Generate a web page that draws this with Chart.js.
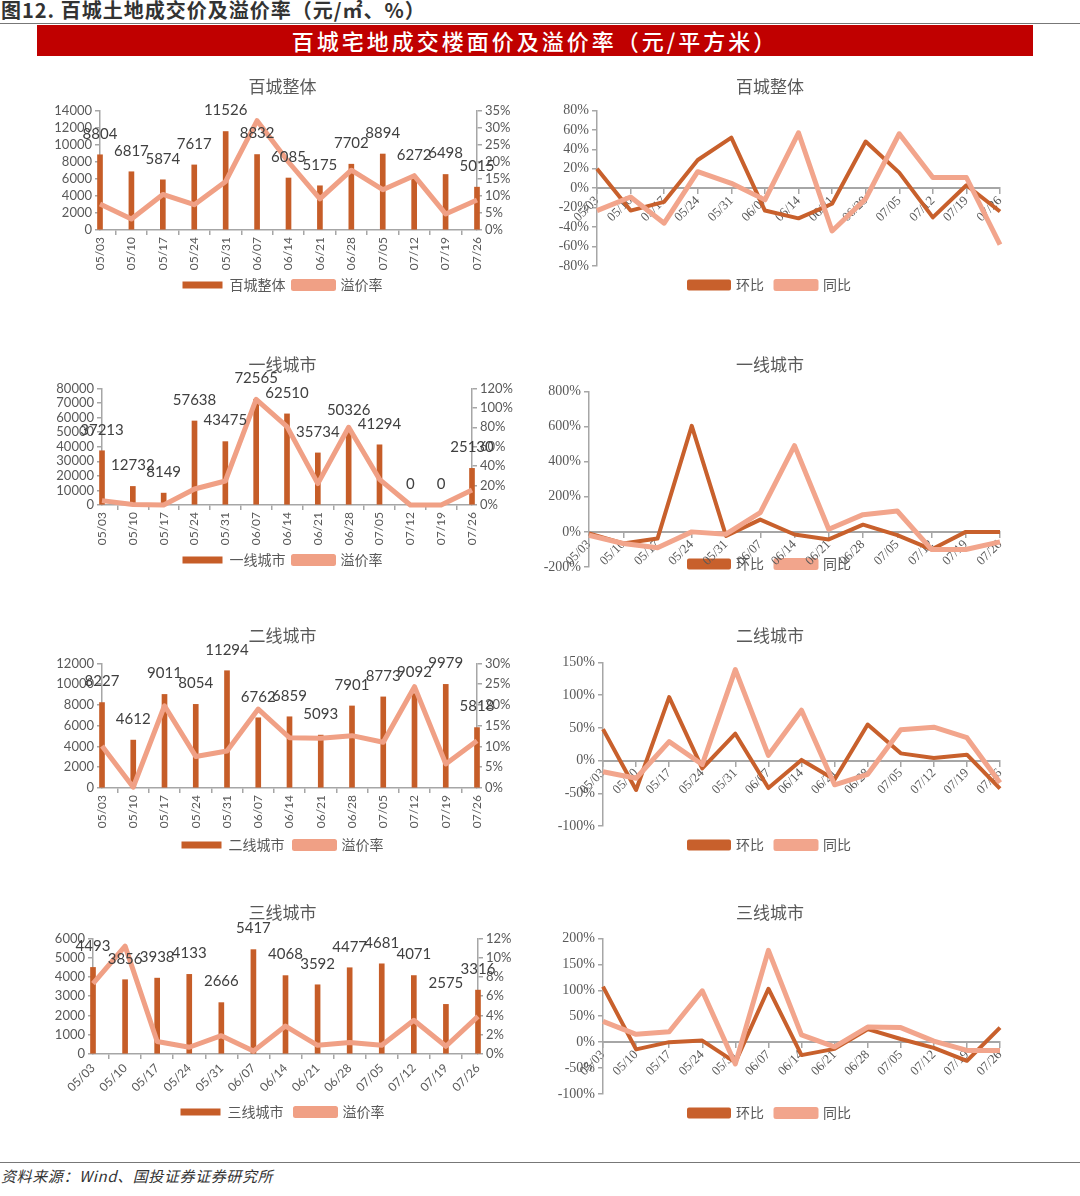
<!DOCTYPE html>
<html>
<head>
<meta charset="utf-8">
<script src="https://cdn.jsdelivr.net/npm/chart.js@4.4.1/dist/chart.umd.min.js"></script>
<style>
body { margin: 0; width: 1080px; height: 1196px; background: #fff; position: relative; overflow: hidden; font-family: 'Noto Sans CJK SC', sans-serif; }
#fig { position: absolute; left: 1px; top: -1px; font-size: 20px; font-weight: bold; color: #333; line-height: 22px; letter-spacing: 1px; }
#topline { position: absolute; left: 0; top: 23px; width: 1080px; height: 1px; background: #777; }
#banner { position: absolute; left: 37px; top: 25px; width: 996px; height: 31px; background: #C00000; color: #fff; text-align: center; font-size: 22px; line-height: 31px; font-weight: 500; letter-spacing: 3px; }
canvas { position: absolute; }
#botline { position: absolute; left: 0; top: 1162px; width: 1080px; height: 1px; background: #777; }
#source { position: absolute; left: 1px; top: 1165px; font-size: 15px; font-style: italic; color: #333; letter-spacing: 0.6px; }
</style>
</head>
<body>
<div id="fig">图12. 百城土地成交价及溢价率（元/㎡、%）</div>
<div id="topline"></div>
<div id="banner">百城宅地成交楼面价及溢价率（元/平方米）</div>

<canvas id="c1" width="485" height="229" style="left:40px;top:73px"></canvas>
<canvas id="c2" width="480" height="229" style="left:540px;top:73px"></canvas>
<canvas id="c3" width="485" height="226" style="left:40px;top:351px"></canvas>
<canvas id="c4" width="480" height="252" style="left:540px;top:351px"></canvas>
<canvas id="c5" width="485" height="240" style="left:40px;top:622px"></canvas>
<canvas id="c6" width="480" height="240" style="left:540px;top:622px"></canvas>
<canvas id="c7" width="485" height="230" style="left:40px;top:899px"></canvas>
<canvas id="c8" width="480" height="231" style="left:540px;top:899px"></canvas>

<div id="botline"></div>
<div id="source">资料来源：Wind、国投证券证券研究所</div>

<script>
const dates = ['05/03', '05/10', '05/17', '05/24', '05/31', '06/07', '06/14', '06/21', '06/28', '07/05', '07/12', '07/19', '07/26'];

// 百城整体
const allPrice = [8804, 6817, 5874, 7617, 11526, 8832, 6085, 5175, 7702, 8894, 6272, 6498, 5015];
const allPremium = [7.6, 3.2, 10.4, 7.4, 14.2, 32, 19.9, 9.1, 17.5, 11.8, 15.9, 4.7, 8.8];
const allHuanbi = [20, -23, -14, 29, 52, -23, -31, -16, 48, 16, -30, 3, -24];
const allTongbi = [-23, -9, -36, 17, 5, -12, 57, -44, -11, 56, 11, 11, -58];

// 一线城市
const tier1Price = [37213, 12732, 8149, 57638, 43475, 72565, 62510, 35734, 50326, 41294, 0, 0, 25130];
const tier1Premium = [4.5, 0.5, 0, 16.5, 24.7, 108.7, 80.6, 22, 80, 26.4, 0, 0, 15.4];
const tier1Huanbi = [-9, -66, -38, 604, -23, 70, -15, -43, 41, -18, -100, 0, 0];
const tier1Tongbi = [-19, -66, -90, 0, -13, 110, 491, 15, 98, 119, -100, -100, -57];

// 二线城市
const tier2Price = [8227, 4612, 9011, 8054, 11294, 6762, 6859, 5093, 7901, 8773, 9092, 9979, 5818];
const tier2Premium = [10.1, 0.2, 19.8, 7.6, 8.9, 19, 12.1, 12, 12.6, 11, 24.4, 5.8, 11.4];
const tier2Huanbi = [48, -45, 97, -12, 41, -42, 1, -29, 55, 11, 4, 9, -43];
const tier2Tongbi = [-17, -27, 29, -6, 139, 8, 77, -37, -21, 47, 51, 35, -34];

// 三线城市
const tier3Price = [4493, 3856, 3938, 4133, 2666, 5417, 4068, 3592, 4477, 4681, 4071, 2575, 3316];
const tier3Premium = [7.3, 11.2, 1.3, 0.7, 1.9, 0.3, 2.9, 0.9, 1.2, 0.9, 3.5, 0.8, 3.9];
const tier3Huanbi = [107, -14, 0, 3, -39, 103, -25, -13, 25, 6, -11, -36, 28];
const tier3Tongbi = [40, 15, 20, 99, -42, 177, 14, -9, 29, 28, 2, -16, -16];

const barColor = '#C65D28';
const premiumColor = '#F0A085';
const hbColor = '#C8602C';
const tbColor = '#F2A58C';
const axisColor = '#A6A6A6';
const tickColor = '#595959';
const sans = 'Lato, "Noto Sans CJK SC", sans-serif';
const serif = '"Liberation Serif", "Noto Sans CJK SC", serif';

// numbers above the bars
const barLabels = {
    id: 'barLabels',
    afterDatasetsDraw(chart) {
        const meta = chart.getDatasetMeta(0);
        const values = chart.data.datasets[0].data;
        const ctx = chart.ctx;
        ctx.save();
        ctx.font = '15px ' + sans;
        ctx.fillStyle = '#404040';
        ctx.textAlign = 'center';
        ctx.textBaseline = 'middle';
        meta.data.forEach((bar, i) => {
            ctx.fillText(values[i], bar.x, bar.y - 21);
        });
        ctx.restore();
    }
};

// lets a legend sit over the bottom of the plot, like the 一线城市 panel
const legendShift = {
    id: 'legendShift',
    afterLayout(chart, args, opts) {
        if (!opts.dy) return;
        chart.legend.top += opts.dy;
        chart.legend.bottom += opts.dy;
    }
};

const titleOpts = (text, padBottom) => ({
    display: true,
    text: text,
    color: tickColor,
    font: { size: 17, family: sans, weight: 'normal' },
    padding: { top: 4, bottom: padBottom }
});

const legendOpts = (pad) => ({
    position: 'bottom',
    labels: {
        boxWidth: 40,
        boxHeight: 7,
        color: tickColor,
        font: { size: 14, family: sans },
        padding: pad,
        sort: (a, b) => a.datasetIndex - b.datasetIndex
    }
});

const axisGrid = { drawOnChartArea: false, color: axisColor, tickLength: 5, lineWidth: 1.5 };
const axisBorder = { color: axisColor, width: 1.5 };

function comboChart(id, c) {
    new Chart(document.getElementById(id), {
        type: 'bar',
        data: {
            labels: dates,
            datasets: [
                { type: 'bar', label: c.name, data: c.prices, backgroundColor: barColor, barThickness: 5, yAxisID: 'y', order: 1, clip: false },
                { type: 'line', label: '溢价率', data: c.premiums, borderColor: premiumColor, backgroundColor: premiumColor,
                  borderWidth: 5, pointRadius: 0, borderJoinStyle: 'round', yAxisID: 'y1', order: 0, clip: false }
            ]
        },
        options: {
            responsive: false,
            animation: false,
            plugins: { title: titleOpts(c.name, c.titlePad), legend: legendOpts(c.legendPad), tooltip: { enabled: false } },
            scales: {
                x: {
                    offset: false,
                    grid: axisGrid,
                    border: axisBorder,
                    ticks: { autoSkip: false, minRotation: c.rot, maxRotation: c.rot, color: tickColor, font: { size: 12, family: sans }, padding: 2 },
                    afterFit: (s) => { s.height = c.xH; }
                },
                y: {
                    min: 0, max: c.yMax,
                    grid: axisGrid,
                    border: axisBorder,
                    ticks: { autoSkip: false, stepSize: c.yStep, color: tickColor, font: { size: 13, family: sans }, padding: 3, callback: (v) => String(v) },
                    afterFit: (s) => { s.width = c.leftW; }
                },
                y1: {
                    position: 'right',
                    min: 0, max: c.rMax,
                    grid: axisGrid,
                    border: axisBorder,
                    ticks: { autoSkip: false, stepSize: c.rStep, color: tickColor, font: { size: 13, family: sans }, padding: 3, callback: (v) => v + '%' },
                    afterFit: (s) => { s.width = c.rightW; }
                }
            }
        },
        plugins: [barLabels]
    });
}

function ratioChart(id, c) {
    new Chart(document.getElementById(id), {
        type: 'line',
        data: {
            labels: dates,
            datasets: [
                { label: '环比', data: c.huanbi, borderColor: hbColor, backgroundColor: hbColor, borderWidth: 4,
                  pointRadius: 0, borderJoinStyle: 'round', order: 1, clip: false },
                { label: '同比', data: c.tongbi, borderColor: tbColor, backgroundColor: tbColor, borderWidth: 5,
                  pointRadius: 0, borderJoinStyle: 'round', order: 0, clip: false }
            ]
        },
        options: {
            responsive: false,
            animation: false,
            layout: { padding: { right: 20 } },
            plugins: {
                title: titleOpts(c.title, c.titlePad),
                legend: legendOpts(12),
                legendShift: { dy: c.legendDy || 0 },
                tooltip: { enabled: false }
            },
            scales: {
                x: {
                    position: { y: 0 },
                    offset: false,
                    grid: axisGrid,
                    border: { color: axisColor, width: 2 },
                    ticks: { autoSkip: false, minRotation: 45, maxRotation: 45, color: tickColor, font: { size: 13, family: serif }, padding: 0 }
                },
                y: {
                    min: c.yMin, max: c.yMax,
                    grid: axisGrid,
                    border: axisBorder,
                    ticks: { autoSkip: false, stepSize: c.yStep, color: tickColor, font: { size: 14, family: serif }, padding: 3, callback: (v) => v + '%' },
                    afterFit: (s) => { s.width = c.leftW; }
                }
            }
        },
        plugins: [legendShift]
    });
}

comboChart('c1', { name: '百城整体', prices: allPrice, premiums: allPremium, yMax: 14000, yStep: 2000, rMax: 35, rStep: 5,
    rot: 90, leftW: 60, rightW: 48, titlePad: 13, xH: 40, legendPad: 8 });
ratioChart('c2', { title: '百城整体', huanbi: allHuanbi, tongbi: allTongbi, yMin: -80, yMax: 80, yStep: 20, leftW: 57, titlePad: 13 });

comboChart('c3', { name: '一线城市', prices: tier1Price, premiums: tier1Premium, yMax: 80000, yStep: 10000, rMax: 120, rStep: 20,
    rot: 90, leftW: 62, rightW: 53, titlePad: 13, xH: 40, legendPad: 8 });
ratioChart('c4', { title: '一线城市', huanbi: tier1Huanbi, tongbi: tier1Tongbi, yMin: -200, yMax: 800, yStep: 200, leftW: 49, titlePad: 16, legendDy: -22 });

comboChart('c5', { name: '二线城市', prices: tier2Price, premiums: tier2Premium, yMax: 12000, yStep: 2000, rMax: 30, rStep: 5,
    rot: 90, leftW: 62, rightW: 48, titlePad: 17, xH: 40, legendPad: 10 });
ratioChart('c6', { title: '二线城市', huanbi: tier2Huanbi, tongbi: tier2Tongbi, yMin: -100, yMax: 150, yStep: 50, leftW: 63, titlePad: 16 });

comboChart('c7', { name: '三线城市', prices: tier3Price, premiums: tier3Premium, yMax: 6000, yStep: 1000, rMax: 12, rStep: 2,
    rot: 45, leftW: 53, rightW: 47, titlePad: 15, xH: 39, legendPad: 12 });
ratioChart('c8', { title: '三线城市', huanbi: tier3Huanbi, tongbi: tier3Tongbi, yMin: -100, yMax: 200, yStep: 50, leftW: 63, titlePad: 15 });
</script>
</body>
</html>
